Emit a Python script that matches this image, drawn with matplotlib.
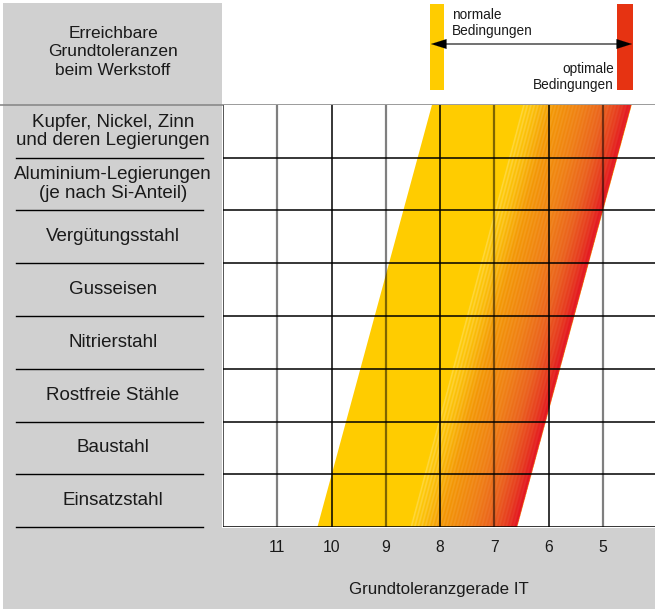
import numpy as np
import matplotlib
matplotlib.use("Agg")
import matplotlib.pyplot as plt
from matplotlib.colors import LinearSegmentedColormap
from matplotlib.patches import Rectangle, Polygon
from matplotlib.transforms import blended_transform_factory

plt.rcParams['font.family'] = ['Liberation Sans', 'DejaVu Sans']

# materials, top to bottom
materials = [
    "Kupfer, Nickel, Zinn\nund deren Legierungen",
    "Aluminium-Legierungen\n(je nach Si-Anteil)",
    "Vergütungsstahl",
    "Gusseisen",
    "Nitrierstahl",
    "Rostfreie Stähle",
    "Baustahl",
    "Einsatzstahl",
]
it_ticks = [11, 10, 9, 8, 7, 6, 5]
it_labels = ["11", "10", "9", "8", "7", "6", "5"]

# band edges in IT units at the bottom (last row) and the top (first row)
normal_edge = [10.26, 8.15]     # left edge of the yellow band
gradient_start = [8.55, 6.47]   # where the yellow turns into the gradient
optimal_edge = [6.58, 4.47]     # right (red) edge

YELLOW = "#FFCC00"
RED = "#E63312"
GRAY = "#D0D0D0"
TXT = "#1a1a1a"

W, H = 655, 609
fig = plt.figure(figsize=(W / 100, H / 100), dpi=100)
fig.patch.set_facecolor("white")


def px_rect(x, y, w, h, **kw):
    # rectangle given in pixels from the top-left corner
    return Rectangle((x / W, 1 - (y + h) / H), w / W, h / H,
                     transform=fig.transFigure, **kw)


# grey panels
fig.add_artist(px_rect(3, 3, 219, H - 3, color=GRAY, lw=0, zorder=0))
fig.add_artist(px_rect(3, 528, W - 3, H - 528, color=GRAY, lw=0, zorder=0))

# background axes in pixel coordinates for header and legend
bg = fig.add_axes([0, 0, 1, 1])
bg.set_xlim(0, W)
bg.set_ylim(H, 0)
bg.axis("off")
bg.plot([0, W], [105, 105], color="#8a8a8a", lw=1.2)
bg.text(113, 52, "Erreichbare\nGrundtoleranzen\nbeim Werkstoff", ha="center", va="center",
        fontsize=12.5, linespacing=1.27, color=TXT)

# legend
bg.add_patch(Rectangle((430, 4), 14, 86, color=YELLOW, lw=0))
bg.add_patch(Rectangle((617, 4), 16, 86, color=RED, lw=0))
bg.plot([440, 622], [44, 44], color="#666666", lw=1.3)
for tip, tail in [(431, 446), (632, 617)]:
    bg.annotate("", xy=(tip, 44), xytext=(tail, 44),
                arrowprops=dict(arrowstyle="-|>,head_length=1.1,head_width=0.35",
                                color="black", lw=0.1, shrinkA=0, shrinkB=0))
bg.text(452, 23, "normale\nBedingungen", ha="left", va="center", fontsize=9.8,
        linespacing=1.2, color=TXT)
bg.text(614, 77, "optimale\nBedingungen", ha="right", va="center", fontsize=9.8,
        linespacing=1.2, color=TXT)

# main chart area
left, right = 223 / W, 1.0
bottom, top = (H - 527) / H, (H - 105) / H
ax = fig.add_axes([left, bottom, right - left, top - bottom])
ax.set_facecolor("white")
n = len(materials)
for s in ax.spines.values():
    s.set_visible(False)

# yellow band
yb, yt = n, 0
ax.add_patch(Polygon([(normal_edge[0], yb), (optimal_edge[0], yb),
                      (optimal_edge[1], yt), (normal_edge[1], yt)],
                     closed=True, color=YELLOW, lw=0, zorder=1))

# gradient band, drawn as an image clipped to the band
gx = np.linspace(12, 4.04, 1000)
gy = np.linspace(0, n, 700)
X, Y = np.meshgrid(gx, gy)
frac = (n - Y) / n
x0 = gradient_start[0] + (gradient_start[1] - gradient_start[0]) * frac
x1 = optimal_edge[0] + (optimal_edge[1] - optimal_edge[0]) * frac
t = (x0 - X) / (x0 - x1)
tc = np.clip(t, 0, 1)
cmap = LinearSegmentedColormap.from_list(
    "grad", [(0.0, "#FFCC00"), (0.12, "#FABA00"), (0.28, "#F39600"),
             (0.55, "#EF7D12"), (0.75, "#EA601B"), (0.9, "#E6381D"),
             (1.0, "#E3101E")])
rgba = cmap(tc)
# fine stripes of the print raster
stripe = 0.5 + 0.5 * np.sin((X - (n - Y) * (gradient_start[1] - gradient_start[0]) / n) * 2 * np.pi / 0.065)
light = 0.22 * stripe * np.exp(-tc / 0.25) + 0.06 * stripe
rgba[..., :3] = rgba[..., :3] + (1 - rgba[..., :3]) * light[..., None]
rgba[..., 3] = ((t >= 0) & (t <= 1)).astype(float)
ax.imshow(rgba, extent=(12, 4.04, n, 0), origin="upper", aspect="auto",
          interpolation="bilinear", zorder=2)
ax.set_xlim(12, 4.04)
ax.set_ylim(n, 0)

# grid: even IT lines black, odd ones grey (semi transparent)
for v in it_ticks:
    if v % 2 == 0:
        ax.axvline(v, color="black", lw=1.1, zorder=3)
    else:
        ax.axvline(v, color="black", alpha=0.5, lw=1.6, zorder=3)
ax.axvline(12, color="#555555", lw=1.4, zorder=3)
for r in range(1, n + 1):
    ax.axhline(r, color="black", lw=1.1, zorder=3)

# material labels and separators in the left panel
trans = blended_transform_factory(fig.transFigure, ax.transData)
for i, m in enumerate(materials):
    ax.text(113 / W, i + 0.5, m, transform=trans, ha="center", va="center",
            fontsize=13.5, linespacing=1.1, color=TXT, clip_on=False)
    ax.plot([16 / W, 203 / W], [i + 1, i + 1], transform=trans, color="black",
            lw=1.0, clip_on=False)

ax.set_xticks(it_ticks)
ax.set_xticklabels(it_labels, fontsize=11.3, color=TXT)
ax.set_yticks([])
ax.tick_params(axis="x", length=0, pad=9)
ax.set_xlabel("Grundtoleranzgerade IT", fontsize=12.2, color=TXT, labelpad=20)

fig.savefig("out.png", dpi=100)
